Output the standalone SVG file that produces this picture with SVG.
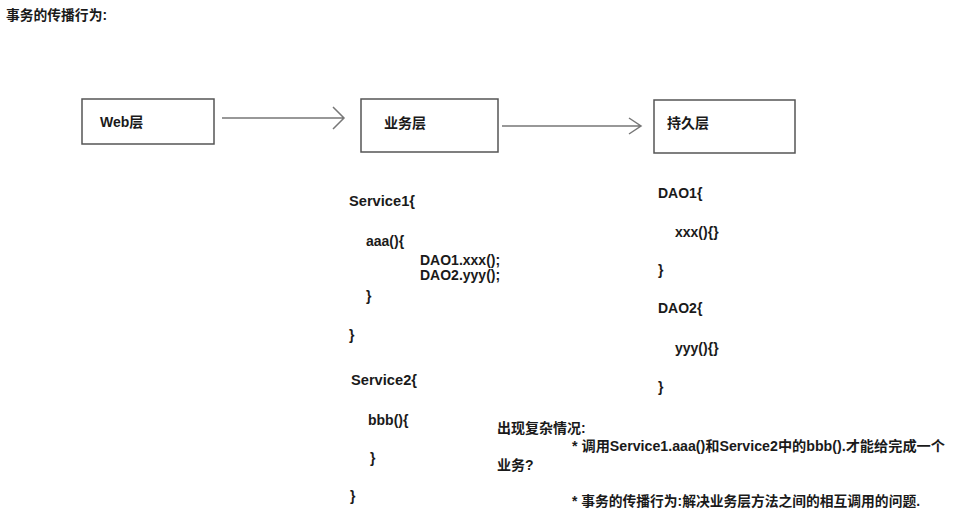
<svg xmlns="http://www.w3.org/2000/svg" width="962" height="517" viewBox="0 0 962 517">
<style>
text{font-family:"Liberation Sans","Noto Sans CJK SC",sans-serif;font-weight:bold;font-size:14px;fill:#1a1a1a}
.box{fill:#fff;stroke:#555;stroke-width:1.5}
.conn{stroke:#777;stroke-width:1.5;fill:none}
</style>
<rect width="962" height="517" fill="#fff"/>
<text x="6" y="20" textLength="101" lengthAdjust="spacingAndGlyphs">事务的传播行为:</text>
<g id="web">
<rect class="box" x="82" y="99" width="132" height="45"/>
<text x="100" y="127">Web层</text>
</g>
<g id="service">
<rect class="box" x="361" y="99" width="137" height="53"/>
<text x="384" y="128">业务层</text>
</g>
<g id="dao">
<rect class="box" x="654" y="100" width="141" height="53"/>
<text x="667" y="128">持久层</text>
</g>
<g id="connectors">
<path class="conn" d="M222 118 H344 M333 107 L344 118 L333 129"/>
<path class="conn" d="M502 126 H641 M629 118 L641 126 L629 134"/>
</g>
<g id="code-service">
<text x="349" y="206" textLength="66" lengthAdjust="spacingAndGlyphs">Service1{</text>
<text x="366" y="246">aaa(){</text>
<text x="420" y="265">DAO1.xxx();</text>
<text x="420" y="280">DAO2.yyy();</text>
<text x="366" y="301">}</text>
<text x="349" y="340">}</text>
<text x="351" y="385" textLength="66" lengthAdjust="spacingAndGlyphs">Service2{</text>
<text x="368" y="425">bbb(){</text>
<text x="370" y="463">}</text>
<text x="350" y="501">}</text>
</g>
<g id="code-dao">
<text x="658" y="198">DAO1{</text>
<text x="675" y="237">xxx(){}</text>
<text x="658" y="275">}</text>
<text x="658" y="313">DAO2{</text>
<text x="675" y="353">yyy(){}</text>
<text x="658" y="392">}</text>
</g>
<g id="notes">
<text x="497" y="433">出现复杂情况:</text>
<text x="572" y="451" textLength="373" lengthAdjust="spacingAndGlyphs">* 调用Service1.aaa()和Service2中的bbb().才能给完成一个</text>
<text x="497" y="470">业务?</text>
<text x="572" y="506" textLength="348" lengthAdjust="spacingAndGlyphs">* 事务的传播行为:解决业务层方法之间的相互调用的问题.</text>
</g>
</svg>
